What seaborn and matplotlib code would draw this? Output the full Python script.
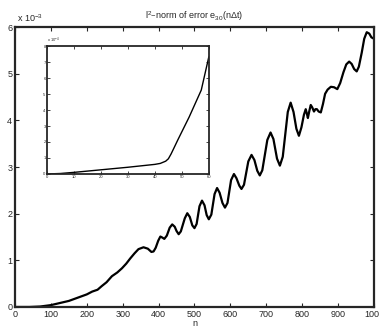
import numpy as np
import pandas as pd
import matplotlib
matplotlib.use("Agg")
import matplotlib.pyplot as plt
import seaborn as sns

# main curve: l2 error vs n (values in units of 1e-3)
n_vals = [0, 40, 70, 100, 150, 200, 215, 230, 242, 255, 270, 285, 298, 310, 321, 333, 344,
          358, 370, 380, 386, 392, 399, 405, 410, 416, 423, 431, 438, 445, 450, 456, 462,
          473, 480, 487, 494, 500, 506, 514, 521, 528, 534, 540, 547, 556, 563, 570, 578,
          585, 592, 602, 610, 617, 625, 631, 638, 650, 659, 667, 675, 682, 689, 703, 712,
          720, 730, 738, 746, 760, 768, 776, 784, 791, 798, 805, 810, 813, 816, 820, 824,
          828, 833, 837, 841, 846, 852, 858, 864, 871, 880, 889, 898, 906, 915, 923, 931,
          938, 945, 952, 958, 966, 973, 980, 987, 993, 1000]
err_vals = [0, 0, 0.01, 0.04, 0.13, 0.27, 0.33, 0.37, 0.45, 0.53, 0.66, 0.74, 0.83, 0.93,
            1.04, 1.15, 1.24, 1.28, 1.25, 1.18, 1.19, 1.27, 1.42, 1.51, 1.49, 1.46, 1.53,
            1.70, 1.77, 1.72, 1.63, 1.56, 1.62, 1.90, 2.01, 1.93, 1.75, 1.69, 1.78, 2.16,
            2.28, 2.18, 1.97, 1.88, 1.98, 2.42, 2.55, 2.45, 2.23, 2.13, 2.23, 2.72, 2.85,
            2.76, 2.60, 2.53, 2.62, 3.12, 3.26, 3.15, 2.92, 2.82, 2.93, 3.58, 3.74, 3.60,
            3.18, 3.03, 3.22, 4.18, 4.38, 4.18, 3.82, 3.67, 3.85, 4.12, 4.24, 4.15, 4.05,
            4.20, 4.33, 4.28, 4.19, 4.24, 4.24, 4.19, 4.17, 4.35, 4.57, 4.66, 4.72, 4.71,
            4.67, 4.80, 5.03, 5.20, 5.26, 5.21, 5.10, 5.05, 5.15, 5.45, 5.75, 5.89, 5.86,
            5.78, 5.75]

# inset curve
inset_x = [0, 5, 10, 20, 30, 40, 42, 44, 45, 46, 47, 48.5, 52.7, 57.2, 60]
inset_y = [0, 0.03, 0.1, 0.26, 0.42, 0.6, 0.66, 0.8, 0.95, 1.25, 1.6, 2.13, 3.56, 5.25, 7.33]

x_ticks = [0, 100, 200, 300, 400, 500, 600, 700, 800, 900, 1000]
y_ticks = [0, 1, 2, 3, 4, 5, 6]
inset_xticks = [0, 10, 20, 30, 40, 50, 60]
inset_yticks = [0, 1, 2, 3, 4, 5, 6, 7, 8]

sns.set_style("ticks")
plt.rcParams['font.family'] = ['Liberation Sans', 'DejaVu Sans']
plt.rcParams['mathtext.default'] = 'regular'

main = pd.DataFrame({"n": n_vals, "err": err_vals})
ins = pd.DataFrame({"x": inset_x, "y": inset_y})

fig = plt.figure(figsize=(3.79, 3.27), dpi=100)
ax = fig.add_axes([0.0396, 0.0612, 0.947, 0.856])
sns.lineplot(data=main, x="n", y="err", ax=ax, color="black", linewidth=1.6)
ax.set_xlim(0, 1000)
ax.set_ylim(0, 6)
ax.set_xticks(x_ticks)
ax.set_yticks(y_ticks)
ax.tick_params(direction="in", top=True, right=True, length=3, width=0.8,
               labelsize=6.5, pad=2)
for s in ax.spines.values():
    s.set_linewidth(1.6)
ax.set_xlabel("n", fontsize=6.5, labelpad=0)
ax.set_ylabel("")
ax.set_title(r"l$^2$–norm of error e$_{30}$(n$\Delta$t)", fontsize=6.5, pad=6)
ax.text(0.005, 1.01, r"x 10$^{-3}$", transform=ax.transAxes, fontsize=6.5,
        ha="left", va="bottom")

axin = fig.add_axes([0.124, 0.468, 0.427, 0.391])
sns.lineplot(data=ins, x="x", y="y", ax=axin, color="black", linewidth=1.0)
axin.set_xlim(0, 60)
axin.set_ylim(0, 8)
axin.set_xticks(inset_xticks)
axin.set_yticks(inset_yticks)
axin.tick_params(direction="in", top=True, right=True, length=2, width=0.6,
                 labelsize=3, pad=1)
for s in axin.spines.values():
    s.set_linewidth(1.3)
axin.set_xlabel("")
axin.set_ylabel("")
axin.text(0.0, 1.01, r"x 10$^{-4}$", transform=axin.transAxes, fontsize=3,
          ha="left", va="bottom")

fig.savefig("out.png", dpi=100)
